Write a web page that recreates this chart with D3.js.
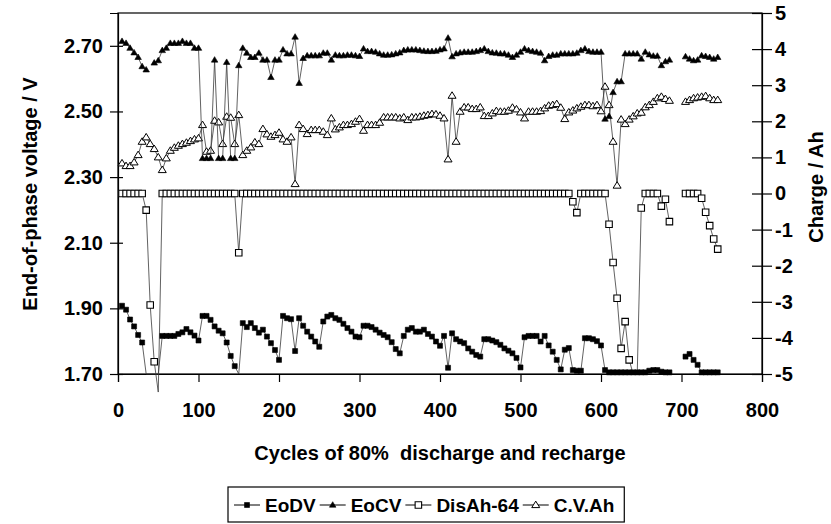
<!DOCTYPE html>
<html>
<head>
<meta charset="utf-8">
<script src="https://cdn.jsdelivr.net/npm/d3@7"></script>
<style>
  html, body { margin: 0; padding: 0; background: #fff; }
  svg { display: block; }
  text { font-family: "Liberation Sans", Arial, Helvetica, sans-serif; font-weight: bold; fill: #000; }
</style>
</head>
<body>
<svg id="chart" width="831" height="524"></svg>
<script>
// Cycle number at which each reading was logged
const cycles = [
  5,10,15,20,25,30,35,40,45,50,
  55,60,65,70,75,80,85,90,95,100,
  105,110,115,120,125,130,135,140,145,150,
  155,160,165,170,175,180,185,190,195,200,
  205,210,215,220,225,230,235,240,245,250,
  255,260,265,270,275,280,285,290,295,300,
  305,310,315,320,325,330,335,340,345,350,
  355,360,365,370,375,380,385,390,395,400,
  405,410,415,420,425,430,435,440,445,450,
  455,460,465,470,475,480,485,490,495,500,
  505,510,515,520,525,530,535,540,545,550,
  555,560,565,570,575,580,585,590,595,600,
  605,610,615,620,625,630,635,640,645,650,
  655,660,665,670,675,680,685,690,695,700,
  705,710,715,720,725,730,735,740,745
];

// End-of-discharge voltage (V)
const eodv = [
  1.908,1.896,1.866,1.845,1.819,1.796,1.700,1.700,1.700,1.700,
  1.816,1.816,1.816,1.816,1.822,1.827,1.837,1.827,1.817,1.802,
  1.877,1.877,1.865,1.845,1.832,1.824,1.796,1.755,1.724,1.700,
  1.855,1.843,1.855,1.840,1.826,1.835,1.814,1.794,1.773,1.743,
  1.877,1.870,1.867,1.770,1.870,1.847,1.829,1.814,1.799,1.783,
  1.860,1.875,1.880,1.870,1.865,1.853,1.840,1.829,1.814,1.812,
  1.847,1.847,1.843,1.835,1.826,1.819,1.812,1.797,1.776,1.763,
  1.816,1.835,1.840,1.829,1.829,1.835,1.822,1.814,1.799,1.786,
  1.816,1.719,1.824,1.806,1.799,1.794,1.778,1.768,1.758,1.753,
  1.806,1.806,1.802,1.797,1.789,1.778,1.771,1.763,1.749,1.720,
  1.812,1.816,1.816,1.816,1.799,1.816,1.787,1.768,1.743,1.714,
  1.774,1.779,1.712,1.710,1.710,1.809,1.809,1.806,1.800,1.787,
  1.712,1.705,1.705,1.705,1.705,1.705,1.705,1.705,1.705,1.705,
  1.705,1.710,1.712,1.712,1.707,1.705,1.705,null,null,null,
  1.753,1.761,1.743,1.728,1.705,1.705,1.705,1.705,1.705
];

// End-of-charge voltage (V)
const eocv = [
  2.714,2.708,2.693,2.679,2.665,2.637,2.627,null,2.648,2.655,
  2.686,2.693,2.708,2.708,2.708,2.714,2.708,2.708,2.693,2.693,
  2.357,2.357,2.357,2.657,2.357,2.357,2.650,2.357,2.357,2.640,
  2.693,2.678,2.665,2.665,2.678,2.657,2.657,2.604,2.657,2.657,
  2.688,2.676,2.676,2.727,2.586,2.662,2.670,2.670,2.670,2.670,
  2.678,2.678,2.657,2.672,2.670,2.670,2.672,2.672,2.670,2.668,
  2.691,2.683,2.683,2.681,2.676,2.672,2.672,2.673,2.676,2.679,
  2.686,2.688,2.688,2.688,2.686,2.684,2.683,2.683,2.684,2.688,
  2.691,2.724,2.667,2.676,2.679,2.681,2.681,2.681,2.683,2.686,
  2.691,2.683,2.679,2.678,2.676,2.676,2.672,2.665,2.672,2.681,
  2.691,2.686,2.683,2.681,2.678,2.655,2.668,2.672,2.672,2.676,
  2.676,2.676,2.676,2.678,2.686,2.691,2.683,2.681,2.681,2.681,
  2.477,2.485,2.558,2.591,2.591,2.676,2.676,2.676,2.676,2.660,
  2.681,2.673,2.669,2.669,2.640,2.652,2.657,null,null,null,
  2.667,2.660,2.655,2.657,2.670,2.668,2.665,2.660,2.665
];

// Discharged capacity minus 64 Ah (Ah)
const disAh = [
  0,0,0,0,0,0,-0.46,-3.09,-4.66,-5.5,
  0,0,0,0,0,0,0,0,0,0,
  0,0,0,0,0,0,0,0,0,-1.64,
  0,0,0,0,0,0,0,0,0,0,
  0,0,0,0,0,0,0,0,0,0,
  0,0,0,0,0,0,0,0,0,0,
  0,0,0,0,0,0,0,0,0,0,
  0,0,0,0,0,0,0,0,0,0,
  0,0,0,0,0,0,0,0,0,0,
  0,0,0,0,0,0,0,0,0,0,
  0,0,0,0,0,0,0,0,0,0,
  0,0,-0.23,-0.53,0,0,0,0,0,0,
  0,-0.85,-1.91,-2.90,-4.29,-3.55,-4.61,-5.0,-5.0,-0.40,
  0,0,0,0,-0.35,-0.16,-0.78,null,null,null,
  0,0,0,0,-0.13,-0.52,-0.89,-1.26,-1.54
];

// Charge passed in the constant-voltage phase (Ah)
const cvAh = [
  0.836,0.762,0.762,0.864,1.066,1.435,1.557,1.371,1.233,1.003,
  0.651,0.975,1.186,1.269,1.325,1.371,1.408,1.454,1.501,1.529,
  1.898,1.158,1.186,2.017,1.972,1.371,2.128,2.100,1.371,2.174,
  1.066,1.186,1.279,1.418,1.371,1.787,1.640,1.574,1.620,1.685,
  1.501,1.435,1.557,0.263,1.898,1.787,1.648,1.759,1.759,1.759,
  1.713,1.620,2.082,1.778,1.833,1.898,1.898,1.925,1.990,2.064,
  1.740,1.898,1.898,1.898,1.962,2.110,2.110,2.110,2.110,2.082,
  2.110,2.036,2.110,2.110,2.128,2.156,2.174,2.202,2.193,2.156,
  2.082,0.947,2.710,1.435,2.267,2.387,2.387,2.341,2.341,2.387,
  2.147,2.147,2.221,2.285,2.267,2.267,2.295,2.378,2.332,2.248,
  2.082,2.267,2.267,2.267,2.285,2.360,2.433,2.452,2.479,2.378,
  2.064,2.248,2.300,2.360,2.405,2.450,2.450,2.420,2.450,2.280,
  2.960,2.450,1.435,0.220,2.050,1.925,2.050,2.140,2.220,2.240,
  2.390,2.450,2.540,2.640,2.680,2.620,2.570,null,null,null,
  2.540,2.590,2.640,2.660,2.680,2.700,2.640,2.590,2.590
];

const cycleTicks = [0,100,200,300,400,500,600,700,800];
const voltTicks = [1.70,1.90,2.10,2.30,2.50,2.70];
const chargeTicks = [-5,-4,-3,-2,-1,0,1,2,3,4,5];

const seriesNames = ["EoDV", "EoCV", "DisAh-64", "C.V.Ah"];

const svg = d3.select("#chart");
const plot = { left: 118, right: 762, top: 13, bottom: 374 };

const x = d3.scaleLinear().domain([0, 800]).range([plot.left, plot.right]);
const yV = d3.scaleLinear().domain([1.7, 2.8]).range([plot.bottom, plot.top]);
const yAh = d3.scaleLinear().domain([-5, 5]).range([plot.bottom, plot.top]);

// Plot area frame
svg.append("rect")
  .attr("x", plot.left).attr("y", plot.top)
  .attr("width", plot.right - plot.left).attr("height", plot.bottom - plot.top)
  .attr("fill", "none").attr("stroke", "#000").attr("stroke-width", 1.2);

// Axes
const tickFont = 20;
const gx = svg.append("g").attr("transform", `translate(0,${plot.bottom})`)
  .call(d3.axisBottom(x).tickValues(cycleTicks).tickFormat(d3.format("d")).tickSize(8).tickPadding(21));
const gl = svg.append("g").attr("transform", `translate(${plot.left},0)`)
  .call(d3.axisLeft(yV).tickValues(voltTicks).tickFormat(d3.format(".2f")).tickSize(8).tickPadding(7));
const gr = svg.append("g").attr("transform", `translate(${plot.right},0)`)
  .call(d3.axisRight(yAh).tickValues(chargeTicks).tickFormat(d3.format("d")).tickSize(10).tickPadding(4));

[gx, gl, gr].forEach(g => {
  g.select(".domain").attr("stroke", "#000").attr("stroke-width", 1.2);
  g.selectAll(".tick line").attr("stroke", "#000").attr("stroke-width", 1.2);
  g.selectAll(".tick text")
    .attr("font-family", '"Liberation Sans", Arial, sans-serif')
    .attr("font-weight", "bold")
    .attr("font-size", tickFont)
    .attr("fill", "#000");
});
// Ticks on the vertical axes cross the axis line
gl.selectAll(".tick line").attr("x2", -8).attr("x1", 5);
gr.selectAll(".tick line").attr("x1", -10).attr("x2", 10);
gr.selectAll(".tick text").attr("x", 13);
// Negative labels use a plain hyphen
gr.selectAll(".tick text").text(d => String(d));

// Series lines and markers
function makeData(vals) {
  return cycles.map((c, i) => ({ c, v: vals[i] }));
}

function drawLine(vals, yScale) {
  const line = d3.line()
    .defined(d => d.v != null)
    .x(d => x(d.c))
    .y(d => yScale(d.v));
  svg.append("path")
    .datum(makeData(vals))
    .attr("d", line)
    .attr("fill", "none")
    .attr("stroke", "#3a3a3a")
    .attr("stroke-width", 0.8);
}

const sq = (s) => `M${-s/2},${-s/2}h${s}v${s}h${-s}Z`;
const tri = (w, h) => `M0,${-h*0.6}L${w/2},${h*0.4}L${-w/2},${h*0.4}Z`;

const markerStyles = {
  "EoDV":     { path: sq(5),         fill: "#000", stroke: "#000", sw: 0.6 },
  "EoCV":     { path: tri(6.5, 5.5), fill: "#000", stroke: "#000", sw: 0.6 },
  "DisAh-64": { path: sq(6.5),       fill: "#fff", stroke: "#000", sw: 1.1 },
  "C.V.Ah":   { path: tri(8, 6.5),   fill: "#fff", stroke: "#000", sw: 1.0 }
};

// Markers are shown only for points strictly inside the axis range
function drawMarkers(vals, yScale, name) {
  const st = markerStyles[name];
  const [lo, hi] = yScale.domain();
  svg.append("g").selectAll("path")
    .data(makeData(vals).filter(d => d.v != null && d.v > lo && d.v <= hi))
    .join("path")
    .attr("transform", d => `translate(${x(d.c)},${yScale(d.v)})`)
    .attr("d", st.path)
    .attr("fill", st.fill)
    .attr("stroke", st.stroke)
    .attr("stroke-width", st.sw);
}

// Charge series (secondary axis) first, voltages on top
drawLine(disAh, yAh);
drawMarkers(disAh, yAh, "DisAh-64");
drawLine(cvAh, yAh);
drawMarkers(cvAh, yAh, "C.V.Ah");
drawLine(eodv, yV);
drawMarkers(eodv, yV, "EoDV");
drawLine(eocv, yV);
drawMarkers(eocv, yV, "EoCV");

// Axis titles
svg.append("text")
  .attr("x", 440).attr("y", 460)
  .attr("text-anchor", "middle")
  .attr("font-size", 20)
  .style("white-space", "pre")
  .text("Cycles of 80%  discharge and recharge");

svg.append("text")
  .attr("transform", "translate(37,194) rotate(-90)")
  .attr("text-anchor", "middle")
  .attr("font-size", 20)
  .text("End-of-phase voltage / V");

svg.append("text")
  .attr("transform", "translate(823,187) rotate(-90)")
  .attr("text-anchor", "middle")
  .attr("font-size", 20)
  .text("Charge / Ah");

// Legend
const legend = svg.append("g");
const legendY = 505;
let lx = 234;
const sampleLen = 26;
seriesNames.forEach((name) => {
  const st = markerStyles[name];
  legend.append("line")
    .attr("x1", lx).attr("x2", lx + sampleLen)
    .attr("y1", legendY).attr("y2", legendY)
    .attr("stroke", "#000").attr("stroke-width", 1);
  legend.append("path")
    .attr("transform", `translate(${lx + sampleLen / 2},${legendY})`)
    .attr("d", st.path)
    .attr("fill", st.fill).attr("stroke", st.stroke).attr("stroke-width", st.sw);
  const t = legend.append("text")
    .attr("x", lx + sampleLen + 5).attr("y", legendY + 7)
    .attr("font-size", 19)
    .text(name);
  lx += sampleLen + 5 + t.node().getComputedTextLength() + 4;
});
const legendLeft = 228;
legend.insert("rect", ":first-child")
  .attr("x", legendLeft).attr("y", 487)
  .attr("width", lx - legendLeft + 6).attr("height", 35)
  .attr("fill", "#fff").attr("stroke", "#000").attr("stroke-width", 1.2);
</script>
</body>
</html>
